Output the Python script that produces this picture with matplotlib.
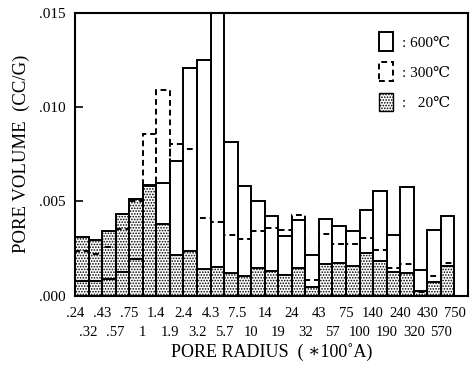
import matplotlib
matplotlib.use("Agg")
import matplotlib.pyplot as plt
from matplotlib.patches import Patch
import numpy as np

plt.rcParams['font.family'] = ['Liberation Serif', 'DejaVu Serif', 'Noto Sans CJK JP']
plt.rcParams['hatch.linewidth'] = 0.8

# Pore radius class boundaries (x100 A)
edges = ['.24', '.32', '.43', '.57', '.75', '1', '1.4', '1.9', '2.4', '3.2',
         '4.3', '5.7', '7.5', '10', '14', '19', '24', '32', '43', '57', '75',
         '100', '140', '190', '240', '320', '430', '570', '750']

# Pore volume (cc/g) per radius class
vol_600 = [0.00076, 0.00076, 0.00090, 0.00124, 0.00193, 0.00580, 0.00600,
           0.00714, 0.01207, 0.01251, 0.01600, 0.00815, 0.00581, 0.00502,
           0.00420, 0.00316, 0.00399, 0.00214, 0.00408, 0.00367, 0.00341,
           0.00456, 0.00555, 0.00320, 0.00576, 0.00138, 0.00346, 0.00422]
vol_300 = [0.00236, 0.00223, 0.00255, 0.00355, 0.00500, 0.00859, 0.01092,
           0.00802, 0.00776, 0.00410, 0.00388, 0.00320, 0.00299, 0.00341,
           0.00358, 0.00346, 0.00426, 0.00081, 0.00325, 0.00272, 0.00272,
           0.00304, 0.00244, 0.00146, 0.00166, 0.00020, 0.00104, 0.00170]
vol_20 = [0.00311, 0.00297, 0.00343, 0.00433, 0.00514, 0.00585, 0.00380,
          0.00214, 0.00237, 0.00139, 0.00152, 0.00120, 0.00102, 0.00148,
          0.00130, 0.00108, 0.00148, 0.00046, 0.00166, 0.00173, 0.00157,
          0.00226, 0.00184, 0.00125, 0.00120, 0.00023, 0.00072, 0.00155]

fig = plt.figure(figsize=(4.76, 3.65), dpi=100)
ax = fig.add_axes([0.1576, 0.1904, 0.8256, 0.774])

x = np.arange(len(vol_20))
lw = 1.4
ax.bar(x, vol_20, width=1.0, align='edge', facecolor='white',
       edgecolor='black', hatch='......', linewidth=lw, zorder=2)
ax.bar(x, vol_600, width=1.0, align='edge', fill=False,
       edgecolor='black', linewidth=lw, zorder=3)
ax.bar(x, vol_300, width=1.0, align='edge', fill=False,
       edgecolor='black', linestyle=(0, (3, 2)), linewidth=lw, zorder=4)

ax.set_xlim(0, 29)
ax.set_ylim(0, 0.015)

ax.set_yticks([0, 0.005, 0.010, 0.015])
ax.set_yticklabels(['.000', '.005', '.010', '.015'], fontsize=11)
ax.tick_params(axis='y', direction='in', length=6, width=1.2, pad=7)

pos = np.arange(len(edges))
ax.set_xticks(pos[::2])
ax.set_xticklabels(edges[::2], fontsize=10.5)
ax.set_xticks(pos[1::2], minor=True)
ax.set_xticklabels(edges[1::2], minor=True, fontsize=10.5)
ax.tick_params(axis='x', which='major', length=0, pad=8)
ax.tick_params(axis='x', which='minor', length=0, pad=22)

for s in ax.spines.values():
    s.set_linewidth(1.5)

ax.set_xlabel('PORE RADIUS  ( \u2217100\u02daA)', fontsize=13, labelpad=3)
ax.set_ylabel('PORE VOLUME  (CC/G)', fontsize=13.5, labelpad=6)

handles = [
    Patch(facecolor='white', edgecolor='black', linewidth=1.4),
    Patch(fill=False, edgecolor='black', linestyle=(0, (3, 2)), linewidth=1.4),
    Patch(facecolor='white', edgecolor='black', hatch='......', linewidth=1.0),
]
ax.legend(handles, [': 600\u2103', ': 300\u2103', ':   20\u2103'],
          loc='upper right', bbox_to_anchor=(0.99, 0.98), frameon=False,
          fontsize=11, handlelength=0.9, handleheight=1.5,
          handletextpad=0.6, labelspacing=0.75)

fig.savefig('out.png', dpi=100)
